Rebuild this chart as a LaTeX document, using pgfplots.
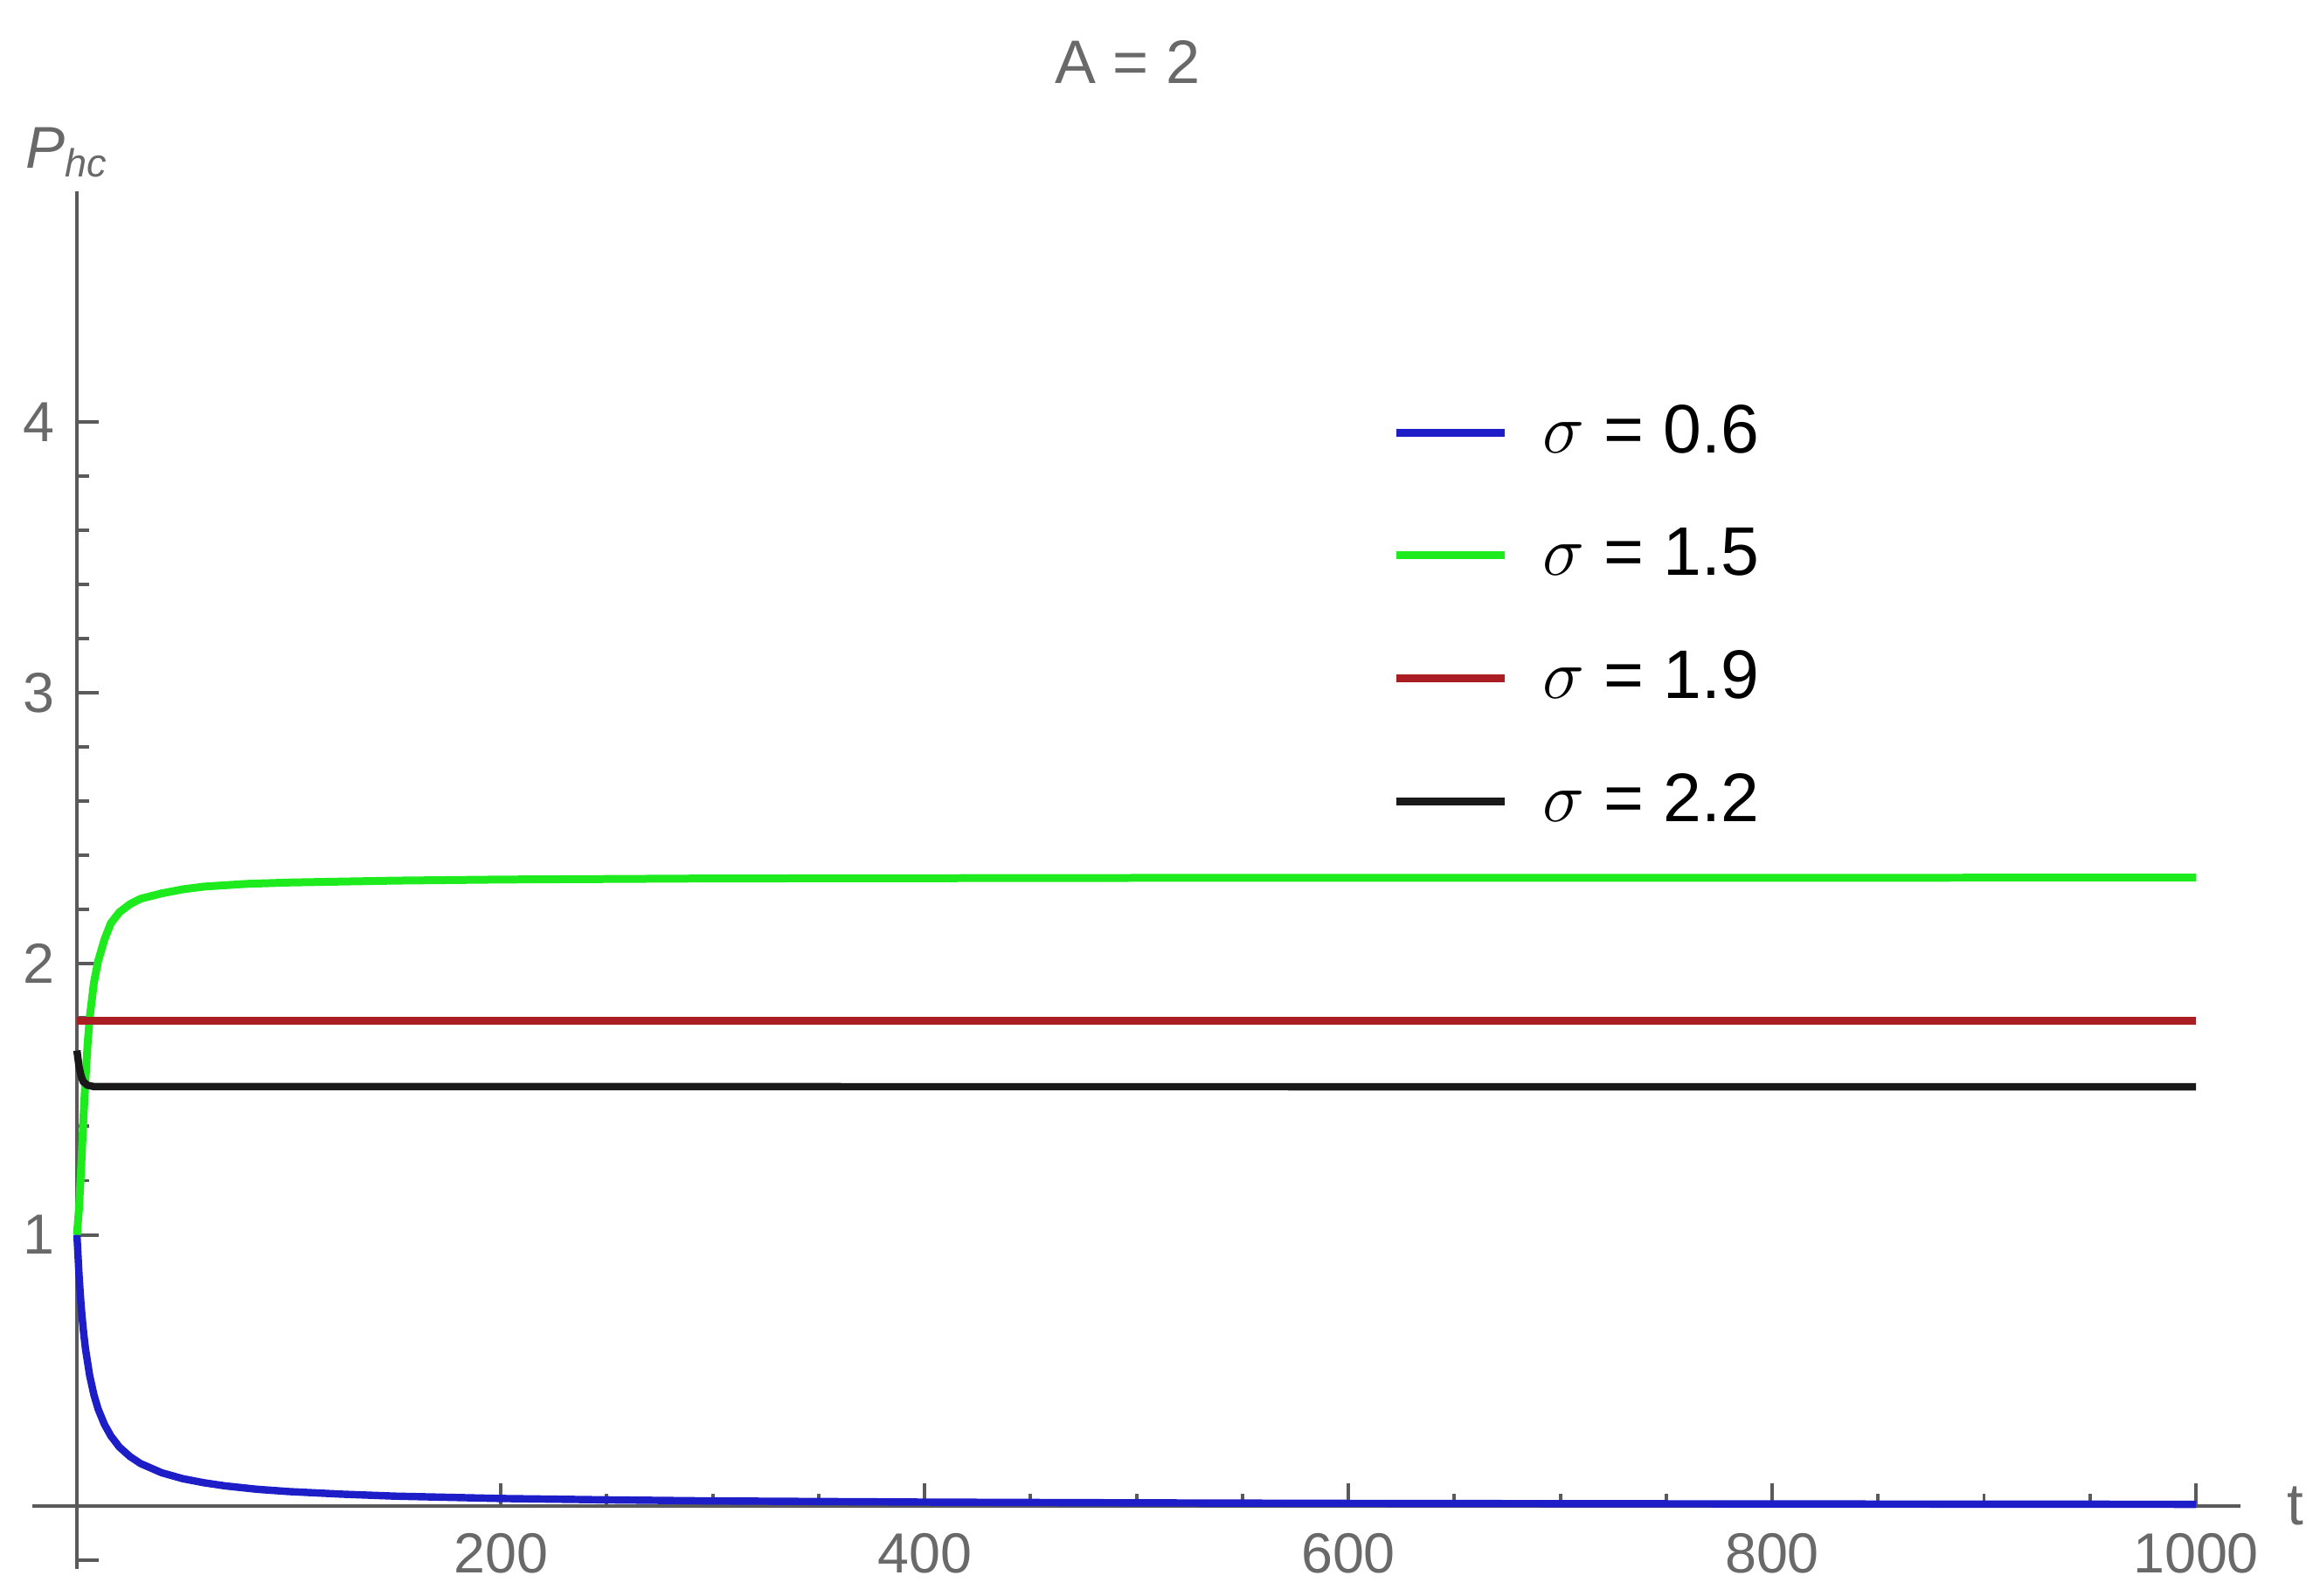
\documentclass[border=0pt]{standalone}
\usepackage{pgfplots}
\pgfplotsset{compat=1.18}
\usepackage{fontspec}
\setmainfont{Liberation Sans}
\definecolor{axgray}{RGB}{90,90,90}
\definecolor{txtgray}{RGB}{105,105,105}
\definecolor{cblue}{RGB}{30,30,200}
\definecolor{cgreen}{RGB}{30,235,30}
\definecolor{cred}{RGB}{170,30,35}
\begin{document}
\begin{tikzpicture}
  \begin{axis}[
    scale only axis,
    width=449.4pt, height=280.5pt,
    axis lines=middle,
    axis line style={axgray, line width=0.8pt, -},
    xmin=-21, xmax=1021,
    ymin=-0.234, ymax=4.85,
    xtick={200,400,600,800,1000},
    ytick={1,2,3,4},
    minor x tick num=3,
    minor y tick num=4,
    extra y ticks={-0.2},
    extra y tick labels={},
    tick align=inside,
    major tick length=4.5pt,
    minor tick length=2.4pt,
    tick style={axgray, line width=0.7pt},
    /pgf/number format/assume math mode=true,
    /pgf/number format/1000 sep={},
    ticklabel style={font=\fontsize{11.5}{13}\selectfont, text=txtgray},
    xticklabel style={yshift=-2pt},
    yticklabel style={xshift=-1pt},
    xlabel={t},
    ylabel={\textit{P\textsubscript{hc}}},
    xlabel style={at={(ticklabel* cs:1)}, anchor=west, xshift=6pt, font=\fontsize{12}{13}\selectfont, text=txtgray},
    ylabel style={at={(ticklabel* cs:1)}, anchor=center, yshift=8pt, xshift=-2pt, font=\fontsize{12}{13}\selectfont, text=txtgray},
    clip=false,
    legend cell align=left,
    legend style={at={(rel axis cs:0.609,0.86)}, anchor=north west, draw=none, fill=none,
      font=\fontsize{14}{15}\selectfont, row sep=9.8pt},
    legend image code/.code={\draw[#1] (0pt,0pt) -- (22pt,0pt); \path (27pt,0pt);},
  ]
  \addplot[cblue, line width=1.5pt] coordinates {
    (0,1.0)(1,0.85)(2,0.735)(3,0.65)(4,0.581)(6,0.481)(8,0.41)(10,0.357)(13,0.3)(16,0.258)
    (20,0.217)(25,0.182)(30,0.156)(40,0.122)(50,0.1)(60,0.085)(70,0.0735)(85,0.061)(100,0.0526)
    (125,0.043)(150,0.0357)(200,0.027)(250,0.022)(300,0.018)(400,0.0137)(500,0.011)(600,0.009)
    (700,0.0079)(800,0.0069)(1000,0.0055)
  };
  \addlegendentry{$\sigma$ = 0.6}
  \addplot[cgreen, line width=1.6pt] coordinates {
    (0,1.0)(1,1.1)(2,1.25)(3,1.42)(4,1.57)(5,1.7)(6,1.8)(8,1.93)(10,2.01)(13,2.09)(16,2.15)
    (20,2.19)(25,2.22)(30,2.24)(40,2.26)(50,2.275)(60,2.285)(80,2.295)(100,2.30)(150,2.307)
    (200,2.311)(300,2.315)(500,2.317)(1000,2.318)
  };
  \addlegendentry{$\sigma$ = 1.5}
  \addplot[cred, line width=1.5pt] coordinates {
    (0,1.79)(1000,1.79)
  };
  \addlegendentry{$\sigma$ = 1.9}
  \addplot[black!90, line width=1.5pt] coordinates {
    (0,1.68)(1,1.62)(2,1.585)(3,1.565)(5,1.552)(8,1.547)(1000,1.546)
  };
  \addlegendentry{$\sigma$ = 2.2}
  \node[text=txtgray, font=\fontsize{12.5}{14}\selectfont] at (rel axis cs:0.496,1.094) {A = 2};
  \path (rel axis cs:-0.0147,-0.0193) rectangle (rel axis cs:1.032,1.139);
  \end{axis}
\end{tikzpicture}
\end{document}
